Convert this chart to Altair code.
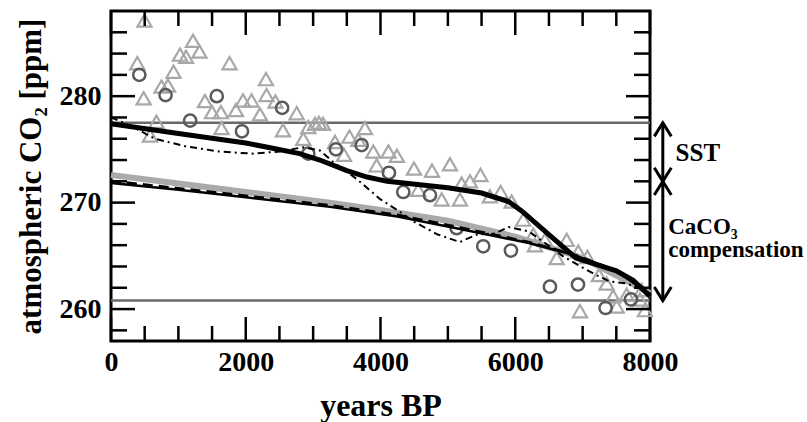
import altair as alt
import pandas as pd

FONT = "Liberation Serif"

# ---------------- data ----------------
tri_x = [497, 390, 485, 675, 579, 749, 846, 928, 1024, 1113, 1217, 1313, 1759, 1395,
         1499, 1632, 1640, 1855, 1959, 2085, 2211, 2300, 2308, 2441, 2552, 2756, 2854,
         2928, 3027, 3087, 3146, 3324, 3458, 3539, 3670, 3769, 3893, 3943, 4118, 4244,
         4560, 4497, 4764, 4908, 5031, 5179, 5204, 5328, 5483, 5624, 5783, 5946, 6118,
         6267, 6292, 6441, 6763, 6614, 6935, 7071, 7242, 7356, 7454, 7653, 7876, 7925,
         6960, 7505, 7850]
tri_y = [287.1, 283.1, 279.8, 277.6, 276.3, 280.9, 281.0, 282.3, 283.9, 283.7, 285.2,
         284.2, 283.1, 279.55, 278.5, 278.5, 277.0, 278.7, 279.6, 279.6, 278.3, 281.6,
         280.1, 279.5, 276.8, 278.4, 276.0, 277.1, 277.4, 277.5, 277.4, 275.7, 274.5,
         276.2, 275.9, 277.0, 274.8, 273.5, 274.8, 274.4, 271.2, 273.2, 273.0, 270.3,
         273.6, 270.3, 271.8, 272.0, 272.6, 270.6, 271.0, 270.1, 268.4, 267.0, 266.0,
         266.5, 266.5, 264.8, 265.4, 264.9, 263.2, 262.4, 261.2, 261.35, 261.8, 259.9,
         259.8, 260.25, 260.9]

circ_x = [420, 810, 1175, 1570, 1944, 2540, 2928, 3339, 3720, 4125, 4338, 4734, 5130,
          5525, 5936, 6515, 6931, 7341, 7717]
circ_y = [282.0, 280.1, 277.7, 280.0, 276.7, 278.9, 274.6, 275.0, 275.4, 272.8, 271.0,
          270.7, 267.6, 265.9, 265.5, 262.1, 262.3, 260.1, 260.9]

upper_x = [0, 1000, 2000, 2400, 2800, 3100, 3500, 3800, 4100, 5000, 5500, 5900, 6100,
           6500, 6900, 7200, 7500, 7750, 8000]
upper_y = [277.4, 276.5, 275.6, 275.1, 274.6, 274.0, 273.0, 272.4, 272.0, 271.4, 270.9,
           270.1, 269.2, 267.0, 264.8, 264.2, 263.6, 262.7, 261.2]

dd_x = [0, 300, 650, 1100, 1600, 2100, 2500, 2850, 3100, 3300, 3650, 4000, 4250, 4500,
        4850, 5180, 5430, 5700, 5900, 6200, 6400, 6700, 7000, 7200, 7400, 7650, 7850, 8000]
dd_y = [278.0, 277.2, 276.0, 275.3, 274.8, 274.6, 274.8, 275.2, 274.9, 273.8, 272.2,
        270.3, 269.3, 268.2, 267.0, 266.3, 267.0, 267.1, 267.7, 267.3, 266.4, 265.0,
        263.9, 263.2, 262.6, 262.4, 262.0, 261.5]

gray_x = [0, 1000, 2000, 3250, 4000, 5000, 6000, 7000, 8000]
gray_y = [272.6, 271.8, 271.0, 270.0, 269.3, 268.3, 266.8, 264.8, 261.5]

dash_x = [0, 1000, 2000, 3250, 4250, 5200, 6200, 6860, 7500, 8000]
dash_y = [272.05, 271.35, 270.65, 269.75, 268.85, 267.65, 266.3, 265.15, 263.6, 261.4]

lower_x = [0, 1000, 2000, 3250, 4250, 5200, 6200, 6860, 7500, 8000]
lower_y = [271.85, 271.2, 270.5, 269.6, 268.7, 267.5, 266.2, 265.1, 263.6, 261.4]

hlines = [277.5, 260.8]

x_major = [0, 2000, 4000, 6000, 8000]
x_minor = [500, 1000, 1500, 2500, 3000, 3500, 4500, 5000, 5500, 6500, 7000, 7500]
y_major = [260, 270, 280]
y_minor = [258, 262, 264, 266, 268, 272, 274, 276, 278, 282, 284, 286]

arrow_x = 8190
arrow_levels = [277.5, 272.0, 260.8]
label_text = ["SST", "CaCO₃", "compensation"]
label_x = [8380, 8270, 8270]
label_y = [274.7, 267.7, 265.55]
label_size = [25, 23, 23]

# ---------------- chart ----------------
W, H = 539, 330
xs = alt.Scale(domain=[0, 8000], nice=False, zero=False)
ys = alt.Scale(domain=[257, 288], nice=False, zero=False)

def df(x, y):
    return pd.DataFrame({"x": x, "y": y})

X = alt.X("x:Q", scale=xs,
          axis=alt.Axis(values=x_major, title="years BP", format="d",
                        labelFont=FONT, labelFontWeight="bold", labelFontSize=28,
                        labelColor="black", labelPadding=7, labelFlush=False,
                        titleFont=FONT, titleFontWeight="bold", titleFontSize=32,
                        titleColor="black", titlePadding=14))
Y = alt.Y("y:Q", scale=ys,
          axis=alt.Axis(values=y_major, title="atmospheric CO₂ [ppm]", format="d",
                        labelFont=FONT, labelFontWeight="bold", labelFontSize=28,
                        labelColor="black", labelPadding=10,
                        titleFont=FONT, titleFontWeight="bold", titleFontSize=31,
                        titleColor="black", titlePadding=12))
Xp = alt.X("x:Q", scale=xs)
Yp = alt.Y("y:Q", scale=ys)

hl = alt.Chart(pd.DataFrame({"y": hlines})).mark_rule(color="#6a6a6a", strokeWidth=2.5).encode(
    y=alt.Y("y:Q", scale=ys), x=alt.value(0), x2=alt.value(W))

tri = alt.Chart(df(tri_x, tri_y)).mark_point(shape="triangle-up", filled=False, color="#a8a8a8",
                                             strokeWidth=2.2, size=200, opacity=1).encode(x=X, y=Y)
circ = alt.Chart(df(circ_x, circ_y)).mark_point(shape="circle", filled=False, color="#5a5a5a",
                                                strokeWidth=2.5, size=150, opacity=1).encode(x=Xp, y=Yp)

gray = alt.Chart(df(gray_x, gray_y)).mark_line(color="#aaaaaa", strokeWidth=6).encode(x=Xp, y=Yp)
lower = alt.Chart(df(lower_x, lower_y)).mark_line(color="black", strokeWidth=2.5).encode(x=Xp, y=Yp)
dash = alt.Chart(df(dash_x, dash_y)).mark_line(color="black", strokeWidth=2.5,
                                               strokeDash=[10, 6]).encode(x=Xp, y=Yp)
upper = alt.Chart(df(upper_x, upper_y)).mark_line(color="black", strokeWidth=5).encode(x=Xp, y=Yp)
dd = alt.Chart(df(dd_x, dd_y)).mark_line(color="black", strokeWidth=2,
                                         strokeDash=[7, 4, 2, 4]).encode(x=Xp, y=Yp)

# inward ticks on all four sides
def xticks(vals, length):
    d = pd.DataFrame({"x": vals})
    b = alt.Chart(d).mark_rule(color="black", strokeWidth=2.5).encode(
        x=Xp, y=alt.value(H), y2=alt.value(H - length))
    t = alt.Chart(d).mark_rule(color="black", strokeWidth=2.5).encode(
        x=Xp, y=alt.value(0), y2=alt.value(length))
    return [b, t]

def yticks(vals, length):
    d = pd.DataFrame({"y": vals})
    l = alt.Chart(d).mark_rule(color="black", strokeWidth=2.5).encode(
        y=Yp, x=alt.value(0), x2=alt.value(length))
    r = alt.Chart(d).mark_rule(color="black", strokeWidth=2.5).encode(
        y=Yp, x=alt.value(W), x2=alt.value(W - length))
    return [l, r]

ticks = xticks(x_major, 24) + xticks(x_minor, 15) + yticks(y_major, 24) + yticks(y_minor, 16)

# annotation arrows on the right
arr = pd.DataFrame({"x": [arrow_x, arrow_x], "y": arrow_levels[:2], "y2": arrow_levels[1:]})
arrow_lines = alt.Chart(arr).mark_rule(color="black", strokeWidth=3).encode(
    x=Xp, y=Yp, y2="y2:Q")
up_heads = alt.Chart(pd.DataFrame({"x": [arrow_x, arrow_x], "y": arrow_levels[:2]})).mark_point(
    shape="M-1,1.6L0,0L1,1.6", filled=False, color="black", strokeWidth=3, size=289,
    opacity=1).encode(x=Xp, y=Yp)
down_heads = alt.Chart(pd.DataFrame({"x": [arrow_x, arrow_x], "y": arrow_levels[1:]})).mark_point(
    shape="M-1,-1.6L0,0L1,-1.6", filled=False, color="black", strokeWidth=3, size=289,
    opacity=1).encode(x=Xp, y=Yp)
labels = alt.Chart(pd.DataFrame({"x": label_x, "y": label_y, "t": label_text,
                                 "s": label_size})).mark_text(
    align="left", baseline="middle", font=FONT, fontWeight="bold",
    color="black").encode(x=Xp, y=Yp, text="t:N",
                          size=alt.Size("s:Q", scale=None, legend=None))

chart = alt.layer(
    hl, tri, circ, gray, lower, dash, upper, dd, *ticks,
    arrow_lines, up_heads, down_heads, labels
).properties(
    width=W, height=H,
    padding={"left": 111, "top": 11, "right": 157, "bottom": 81},
    autosize=alt.AutoSizeParams(type="none"),
    background="white",
).configure_view(
    stroke="black", strokeWidth=3
).configure_axis(
    grid=False, ticks=False, domain=False
)

chart.save("out.html", embed_options={"renderer": "svg", "actions": False})
